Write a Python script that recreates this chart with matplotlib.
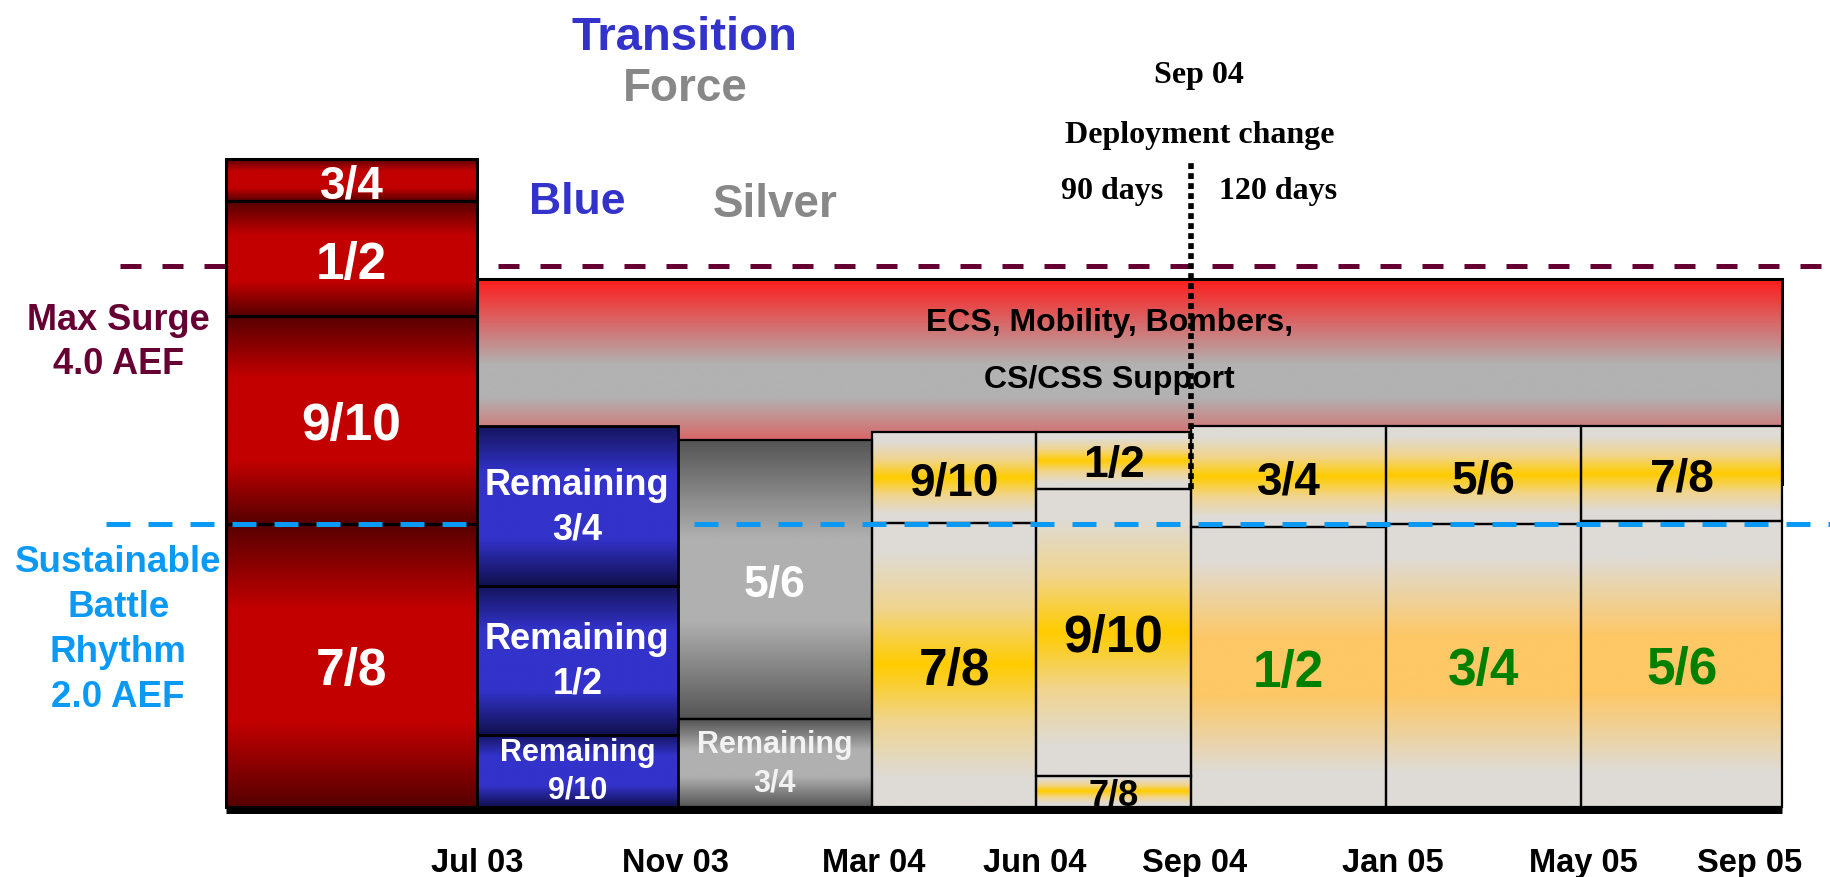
import numpy as np
import matplotlib.pyplot as plt
from matplotlib.colors import LinearSegmentedColormap
from matplotlib.patches import Rectangle

plt.rcParams['font.family'] = ['Liberation Sans', 'DejaVu Sans']
plt.rcParams['font.weight'] = 'bold'
SERIF = ['Liberation Serif', 'DejaVu Serif']

# x = months after Jul 03, y = AEF units (sustainable rhythm = 2.0)
month_labels = ['Jul 03', 'Nov 03', 'Mar 04', 'Jun 04', 'Sep 04', 'Jan 05', 'May 05', 'Sep 05']
label_months = [0, 3.95, 7.9, 11.12, 14.3, 18.25, 22.05, 25.36]
col_edges = [-5, 0, 4, 7.87, 11.14, 14.23, 18.11, 22, 26]

surge_level = 3.82
rhythm_level = 2.0
change_month = 14.23

red_labels = ['7/8', '9/10', '1/2', '3/4']
red_bounds = [0, 2.0, 3.47, 4.28, 4.58]

blue_labels = ['Remaining\n9/10', 'Remaining\n1/2', 'Remaining\n3/4']
blue_bounds = [0, 0.51, 1.56, 2.69]

silver_labels = ['Remaining\n3/4', '5/6']
silver_bounds = [0, 0.62, 2.59]

mar_labels = ['7/8', '9/10']
mar_bounds = [0, 2.01, 2.65]
jun_labels = ['7/8', '9/10', '1/2']
jun_bounds = [0, 0.22, 2.25, 2.65]
sep_labels = ['1/2', '3/4']
sep_bounds = [0, 1.98, 2.69]
jan_labels = ['3/4', '5/6']
jan_bounds = [0, 2.0, 2.69]
may_labels = ['5/6', '7/8']
may_bounds = [0, 2.02, 2.69]

banner_lines = ['ECS, Mobility, Bombers,', 'CS/CSS Support']
banner_bounds = [2.28, 3.73]


def cmap(stops):
    return LinearSegmentedColormap.from_list('g', stops)


red_cm = cmap([(0, '#560000'), (0.3, '#c20000'), (0.7, '#c20000'), (1, '#560000')])
blue_cm = cmap([(0, '#10104c'), (0.3, '#3333cc'), (0.7, '#3333cc'), (1, '#15155e')])
silver_cm = cmap([(0, '#555555'), (0.35, '#b0b0b0'), (0.65, '#b0b0b0'), (1, '#555555')])
gold_cm = cmap([(0, '#dedbd7'), (0.1, '#dedbd7'), (0.3, '#f0d590'), (0.5, '#ffcc00'),
                (0.7, '#f0d590'), (0.9, '#dedbd7'), (1, '#dedbd7')])
soft_cm = cmap([(0, '#dedbd7'), (0.12, '#dedbd7'), (0.4, '#fdc865'), (0.6, '#fdc865'),
                (0.88, '#dedbd7'), (1, '#dedbd7')])
banner_cm = cmap([(0, '#ff1a1a'), (0.42, '#b2b2b2'), (0.58, '#b2b2b2'), (1, '#ff1a1a')])

fig = plt.figure(figsize=(18.3, 8.78), dpi=100)
ax = fig.add_axes([0, 0, 1, 1])
grad = np.linspace(0, 1, 256).reshape(-1, 1)


def block(x0, x1, y0, y1, cm, z=3, lw=1.6):
    ax.imshow(grad, cmap=cm, extent=(x0, x1, y0, y1), origin='lower',
              aspect='auto', zorder=z, interpolation='bilinear')
    ax.add_patch(Rectangle((x0, y0), x1 - x0, y1 - y0, fill=False,
                           ec='black', lw=lw, zorder=z + 0.1))


def stack(i, labels, bounds, cms, colors, sizes, z=3, lw=1.6):
    x0, x1 = col_edges[i], col_edges[i + 1]
    for k, lab in enumerate(labels):
        y0, y1 = bounds[k], bounds[k + 1]
        block(x0, x1, y0, y1, cms[k], z, lw)
        va = 'center' if '\n' in lab else 'center_baseline'
        ax.text((x0 + x1) / 2, (y0 + y1) / 2, lab, color=colors[k], fontsize=sizes[k],
                ha='center', va=va, linespacing=1.35, zorder=z + 0.2)


# banner behind the columns
block(col_edges[1], col_edges[-1], banner_bounds[0], banner_bounds[1], banner_cm, z=1, lw=2.2)
for line, yy in zip(banner_lines, [3.45, 3.05]):
    ax.text(12.6, yy, line, fontsize=23, ha='center', va='center_baseline', zorder=1.2)

# reference lines
xl, xr = -9.504, 26.957
ax.plot([-7.11, xr], [surge_level] * 2, color='#660033', lw=3.6,
        dashes=(4.2, 4.2), zorder=2)
ax.plot([-7.39, xr], [rhythm_level] * 2, color='#0a9af5', lw=3.6,
        dashes=(4.8, 3.6), zorder=4.5)

stack(0, red_labels, red_bounds, [red_cm] * 4, ['white'] * 4, [37, 37, 37, 33], lw=2.2)
stack(1, blue_labels, blue_bounds, [blue_cm] * 3, ['white'] * 3, [22, 26, 26], z=5, lw=2)
stack(2, silver_labels, silver_bounds, [silver_cm] * 2, ['#f2f2f2', 'white'], [22, 32])
stack(3, mar_labels, mar_bounds, [gold_cm] * 2, ['black'] * 2, [37, 33])
stack(4, jun_labels, jun_bounds, [gold_cm] * 3, ['black'] * 3, [26, 37, 32])
stack(5, sep_labels, sep_bounds, [soft_cm, gold_cm], ['#008000', 'black'], [37, 33])
stack(6, jan_labels, jan_bounds, [soft_cm, gold_cm], ['#008000', 'black'], [37, 33])
stack(7, may_labels, may_bounds, [soft_cm, gold_cm], ['#008000', 'black'], [37, 33])

# baseline
ax.plot([col_edges[0], col_edges[-1]], [-0.022, -0.022], color='black', lw=5,
        solid_capstyle='butt', zorder=8)

# deployment change marker
ax.plot([change_month, change_month], [jun_bounds[2], red_bounds[-1]], color='black',
        lw=4, dashes=(1.05, 0.75), zorder=7)
ax.text(change_month + 0.16, 5.198, 'Sep 04', family=SERIF, fontsize=23,
        ha='center', va='center_baseline')
ax.text(change_month + 0.16, 4.78, 'Deployment change', family=SERIF, fontsize=23,
        ha='center', va='center_baseline')
ax.text(change_month - 1.58, 4.378, '90 days', family=SERIF, fontsize=23,
        ha='center', va='center_baseline')
ax.text(change_month + 1.73, 4.378, '120 days', family=SERIF, fontsize=23,
        ha='center', va='center_baseline')

# headings
ax.text(4.14, 5.477, 'Transition', color='#3333cc', fontsize=34, ha='center', va='center_baseline')
ax.text(4.16, 5.117, 'Force', color='#888888', fontsize=33, ha='center', va='center_baseline')
ax.text((col_edges[1] + col_edges[2]) / 2, 4.313, 'Blue', color='#3333cc', fontsize=32,
        ha='center', va='center_baseline')
ax.text((col_edges[2] + col_edges[3]) / 2, 4.297, 'Silver', color='#888888', fontsize=33,
        ha='center', va='center_baseline')

# level labels
ax.text(-7.15, surge_level - 0.53, 'Max Surge\n4.0 AEF', color='#660033', fontsize=26,
        ha='center', va='center', linespacing=1.35)
ax.text(-7.15, rhythm_level - 0.742, 'Sustainable\nBattle\nRhythm\n2.0 AEF', color='#0a9af5',
        fontsize=26.5, ha='center', va='center', linespacing=1.38)

# time axis labels
for m, lab in zip(label_months, month_labels):
    ax.text(m, -0.365, lab, fontsize=23.5, ha='center', va='center_baseline')

ax.set_xlim(xl, xr)
ax.set_ylim(-0.4947, 5.710)
ax.axis('off')
fig.savefig('out.png', dpi=100)
